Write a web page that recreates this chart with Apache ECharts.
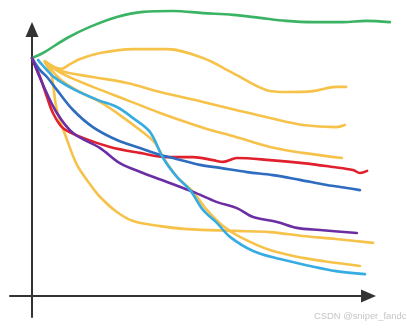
<!DOCTYPE html>
<html>
<head>
<meta charset="utf-8">
<script src="https://cdn.jsdelivr.net/npm/echarts@6/dist/echarts.min.js"></script>
<style>
html,body{margin:0;padding:0;background:#fff;}
#chart{width:407px;height:329px;}
</style>
</head>
<body>
<div id="chart"></div>
<script>
// Hand-drawn curves (x: time, y: value)
const greenLine = [[0,79.3],[3.7,81],[11.7,86],[19.3,89.7],[28.3,93],[37,94.7],[47,95],[57,94.3],[67,93.7],[76,92.7],[84.7,91.7],[93.7,91.3],[103.7,91.3],[111.3,91.7],[119.3,91.3]];
const yellowLine1 = [[4.3,78.3],[9.7,75.7],[12.7,77.3],[16,79],[22.7,81],[33.7,82.3],[45,82.3],[57,79.3],[67,74.3],[78,68.7],[84.7,68],[93.7,68.3],[101.3,69.7],[104.7,69.7]];
const yellowLine2 = [[4.3,78],[9.7,75],[20.3,73],[31.7,71],[42.7,68],[57,64.7],[68,62],[79.3,59.3],[90.3,57],[101.3,56.3],[104.3,57]];
const yellowLine3 = [[4.3,78],[9.7,74.3],[20.3,69.7],[31.7,65.3],[42.7,61],[57.3,56],[68,53],[79.3,49.7],[90.3,47.7],[103.3,46]];
const yellowLine4 = [[4.3,78],[6,74.7],[6.7,72.7],[8.3,62],[11.7,52],[15,43.7],[19.3,37.3],[22.7,33],[28.3,28],[33.7,25],[42.7,23.3],[51.7,22.3],[68,21.7],[79.3,21.3],[90.3,20],[101.3,19],[113.7,17.7]];
const yellowLine5 = [[4.3,78],[9.7,72],[16,68],[22.7,64.7],[29.3,60.3],[36,55.3],[41,51],[44.3,45.3],[48.7,39.3],[53.7,34.7],[58.3,28.7],[63.7,23.3],[69.3,19.7],[79.3,15.3],[90.3,12.7],[101.7,11],[109.3,10]];
const redLine = [[0,79.3],[2.7,73],[5,66.3],[7,61],[10.3,56],[17,52.7],[26,49.7],[36,47.7],[45,46.3],[53.7,46.3],[60.3,45.3],[63.7,44.7],[68.3,46],[79.3,45.3],[90.3,44.3],[100.3,43],[107,42],[109.3,41],[111.7,41.7]];
const blueLine = [[0,79.3],[2.7,75.3],[5,73],[8.3,68.7],[13.7,62],[20.3,56.3],[28.3,52],[36,49.3],[42.7,47],[47,46],[56,43.7],[62.7,42.7],[71.7,41.3],[80.3,40.3],[89.3,38.7],[98.3,37],[105,36],[109.3,35.3]];
const purpleLine = [[0,79.3],[3.7,70.3],[8.3,61],[13.7,54.3],[22.7,49.3],[29.3,44.3],[37,41],[45,38],[53.7,34.7],[61.7,31.3],[68.3,29.3],[73.7,26.3],[81.7,24.7],[88.3,22.7],[96,22],[108.3,21]];
const cyanLine = [[2,78.7],[3.7,76.7],[7.7,72.7],[14.3,68.7],[22,65.3],[28.3,63],[33.7,59.3],[39.3,54.7],[43.7,46],[48.3,39.7],[52.7,35.3],[57,28.7],[61.7,24.3],[66,19.7],[73.7,15],[82.7,12.3],[92.7,10],[101.3,8.3],[111,7.3]];
const watermark = 'CSDN @sniper_fandc';

const lines = [
  {data: yellowLine1, color: '#f6c24a'},
  {data: yellowLine2, color: '#f6c24a'},
  {data: yellowLine3, color: '#f6c24a'},
  {data: yellowLine4, color: '#f6c24a'},
  {data: yellowLine5, color: '#f6c24a'},
  {data: greenLine, color: '#3bb365'},
  {data: redLine, color: '#e0202c'},
  {data: blueLine, color: '#2e6cc0'},
  {data: purpleLine, color: '#6b2fa3'},
  {data: cyanLine, color: '#36ace2'}
];

const hiddenAxis = {axisLine: {show: false}, axisTick: {show: false}, axisLabel: {show: false}, splitLine: {show: false}};
const arrowLine = {show: true, onZero: true, lineStyle: {color: '#333', width: 2}, symbol: ['none', 'triangle'], symbolSize: [13, 15]};

const chart = echarts.init(document.getElementById('chart'), null, {renderer: 'canvas'});
chart.setOption({
  animation: false,
  backgroundColor: '#ffffff',
  grid: [
    {left: 10, right: 38.5, top: 29.5, bottom: 12},
    {left: 10, right: 9, top: 29.5, bottom: 12}
  ],
  xAxis: [
    Object.assign({type: 'value', min: -7.333, max: 112.17, gridIndex: 0}, hiddenAxis, {axisLine: arrowLine}),
    Object.assign({type: 'value', min: -7.333, max: 122, gridIndex: 1}, hiddenAxis)
  ],
  yAxis: [
    Object.assign({type: 'value', min: -7, max: 88.83, gridIndex: 0}, hiddenAxis, {axisLine: arrowLine}),
    Object.assign({type: 'value', min: -7, max: 88.83, gridIndex: 1}, hiddenAxis)
  ],
  series: lines.map(l => ({
    type: 'line', data: l.data, xAxisIndex: 1, yAxisIndex: 1,
    smooth: 0.35, showSymbol: false, clip: false,
    lineStyle: {color: l.color, width: 2.6, cap: 'round', join: 'round'},
    itemStyle: {color: l.color}
  })),
  graphic: [{
    type: 'text', left: 314, top: 312,
    style: {text: watermark, fill: '#c6c6c6', font: '9.4px "Liberation Sans", Arial, sans-serif'}
  }]
});
</script>
</body>
</html>
